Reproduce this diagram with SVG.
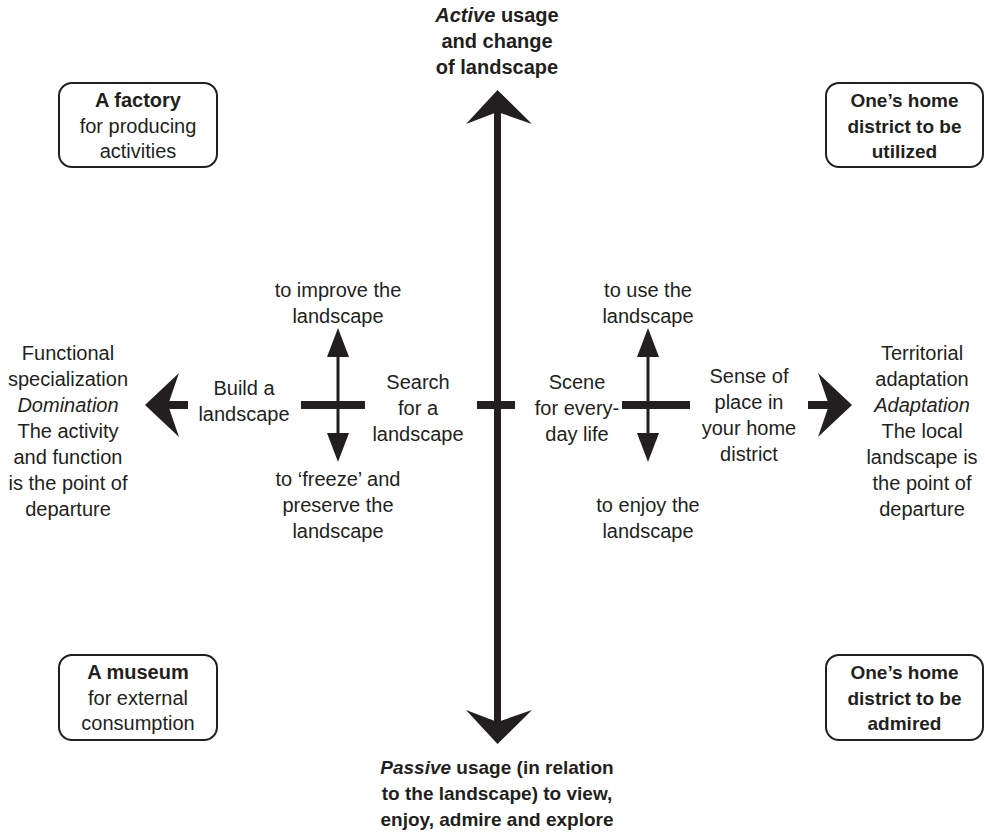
<svg xmlns="http://www.w3.org/2000/svg" width="985" height="837" viewBox="0 0 985 837">
<style>
text{font-family:"Liberation Sans",Arial,sans-serif;font-size:20px;fill:#231f20;text-anchor:middle}
.b{font-weight:bold}
.i{font-style:italic}
.s{font-size:19px}
.box{fill:#fff;stroke:#231f20;stroke-width:2}
.thick{stroke:#231f20;stroke-width:8;fill:none}
.shaft{stroke:#231f20;stroke-width:7;fill:none}
.thin{stroke:#231f20;stroke-width:3;fill:none}
.head{fill:#231f20}
</style>
<rect width="985" height="837" fill="#fff"/>
<g id="connectors">
<line class="shaft" x1="497.5" y1="110" x2="497.5" y2="724"/>
<polygon class="head" points="497.5,90 532,124 497.5,112 466,124"/>
<polygon class="head" points="497.5,744 532,710 497.5,722 466,710"/>
<line class="thick" x1="477" y1="405" x2="515" y2="405"/>
<line class="thick" x1="165" y1="405" x2="188" y2="405"/>
<polygon class="head" points="145,405 179,373 168,405 179,437"/>
<line class="thick" x1="808" y1="405" x2="832" y2="405"/>
<polygon class="head" points="852,405 818,373 829,405 818,437"/>
<line class="thick" x1="301" y1="405" x2="365" y2="405"/>
<line class="thin" x1="338" y1="350" x2="338" y2="440"/>
<polygon class="head" points="338,328 349,357 327,357"/>
<polygon class="head" points="338,462 349,433 327,433"/>
<line class="thick" x1="622" y1="405" x2="690" y2="405"/>
<line class="thin" x1="648" y1="350" x2="648" y2="440"/>
<polygon class="head" points="648,328 659,357 637,357"/>
<polygon class="head" points="648,462 659,433 637,433"/>
</g>
<g id="top-label">
<text class="b" x="497" y="22"><tspan class="i">Active</tspan> usage</text>
<text class="b" x="497" y="48">and change</text>
<text class="b" x="497" y="74">of landscape</text>
</g>
<g id="bottom-label">
<text class="b s" x="497" y="774"><tspan class="i">Passive</tspan>  usage (in relation</text>
<text class="b s" x="497" y="800">to the landscape) to view,</text>
<text class="b s" x="497" y="826">enjoy, admire and explore</text>
</g>
<g id="factory">
<rect class="box" x="59" y="83" width="158" height="84" rx="13"/>
<text class="b" x="138" y="107">A factory</text>
<text x="138" y="133">for producing</text>
<text x="138" y="158">activities</text>
</g>
<g id="home-utilized">
<rect class="box" x="826" y="83" width="157" height="84" rx="13"/>
<text class="b s" x="904.5" y="107">One’s home</text>
<text class="b s" x="904.5" y="133">district to be</text>
<text class="b s" x="904.5" y="158">utilized</text>
</g>
<g id="museum">
<rect class="box" x="59" y="655" width="158" height="85" rx="13"/>
<text class="b" x="138" y="679">A museum</text>
<text x="138" y="705">for external</text>
<text x="138" y="730">consumption</text>
</g>
<g id="home-admired">
<rect class="box" x="826" y="655" width="157" height="85" rx="13"/>
<text class="b s" x="904.5" y="679">One’s home</text>
<text class="b s" x="904.5" y="705">district to be</text>
<text class="b s" x="904.5" y="730">admired</text>
</g>
<g id="functional">
<text x="68" y="360">Functional</text>
<text x="68" y="386">specialization</text>
<text class="i" x="68" y="412">Domination</text>
<text x="68" y="438">The activity</text>
<text x="68" y="464">and function</text>
<text x="68" y="490">is the point of</text>
<text x="68" y="516">departure</text>
</g>
<g id="territorial">
<text x="922" y="360">Territorial</text>
<text x="922" y="386">adaptation</text>
<text class="i" x="922" y="412">Adaptation</text>
<text x="922" y="438">The local</text>
<text x="922" y="464">landscape is</text>
<text x="922" y="490">the point of</text>
<text x="922" y="516">departure</text>
</g>
<g id="build">
<text x="244" y="395">Build a</text>
<text x="244" y="421">landscape</text>
</g>
<g id="search">
<text x="418" y="389">Search</text>
<text x="418" y="415">for a</text>
<text x="418" y="441">landscape</text>
</g>
<g id="scene">
<text x="577" y="389">Scene</text>
<text x="577" y="415">for every-</text>
<text x="577" y="441">day life</text>
</g>
<g id="sense">
<text x="749" y="383">Sense of</text>
<text x="749" y="409">place in</text>
<text x="749" y="435">your home</text>
<text x="749" y="461">district</text>
</g>
<g id="improve">
<text x="338" y="297">to improve the</text>
<text x="338" y="323">landscape</text>
</g>
<g id="use">
<text x="648" y="297">to use the</text>
<text x="648" y="323">landscape</text>
</g>
<g id="freeze">
<text x="338" y="486">to ‘freeze’ and</text>
<text x="338" y="512">preserve the</text>
<text x="338" y="538">landscape</text>
</g>
<g id="enjoy">
<text x="648" y="512">to enjoy the</text>
<text x="648" y="538">landscape</text>
</g>
</svg>
